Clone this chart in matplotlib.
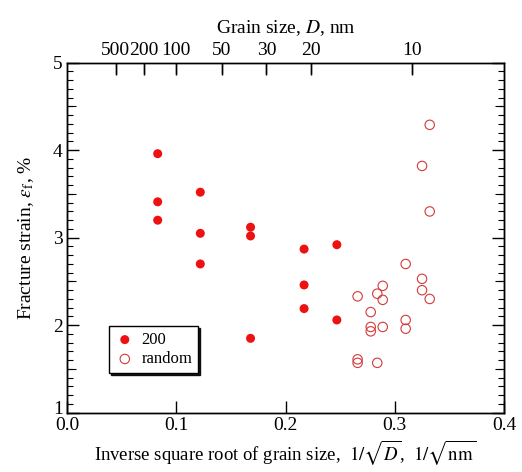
import numpy as np
import matplotlib
matplotlib.use('Agg')
import matplotlib.pyplot as plt
import matplotlib.transforms as mtransforms
from matplotlib.ticker import MultipleLocator

plt.rcParams['font.family'] = ['Liberation Serif', 'DejaVu Serif']
plt.rcParams['mathtext.fontset'] = 'stix'

# 200 (textured) samples
x_200 = [0.083, 0.083, 0.083, 0.122, 0.122, 0.122, 0.168, 0.168, 0.168,
         0.217, 0.217, 0.217, 0.247, 0.247]
y_200 = [3.96, 3.41, 3.20, 3.52, 3.05, 2.70, 3.12, 3.02, 1.85,
         2.87, 2.46, 2.19, 2.92, 2.06]

# random samples
x_rand = [0.332, 0.325, 0.332, 0.310, 0.325, 0.325, 0.332, 0.289, 0.284, 0.289,
          0.266, 0.278, 0.278, 0.278, 0.289, 0.310, 0.310, 0.266, 0.266, 0.284]
y_rand = [4.29, 3.82, 3.30, 2.70, 2.53, 2.40, 2.30, 2.45, 2.36, 2.29,
          2.33, 2.15, 1.98, 1.93, 1.98, 2.06, 1.96, 1.61, 1.57, 1.57]

# top axis grain sizes
grain_D = [500, 200, 100, 50, 30, 20, 10]

fig = plt.figure(figsize=(5.22, 4.72), dpi=100)
ax = fig.add_axes([0.1284, 0.1256, 0.8371, 0.7416])

ax.scatter(x_200, y_200, s=42, color='#ee1111', edgecolors='none', label='200', zorder=3)
ax.scatter(x_rand, y_rand, s=46, facecolors='none', edgecolors='#d23a3a',
           linewidths=0.8, label='random', zorder=3)

ax.set_xlim(0, 0.4)
ax.set_ylim(1, 5)
ax.xaxis.set_major_locator(MultipleLocator(0.1))
ax.yaxis.set_major_locator(MultipleLocator(1))
ax.yaxis.set_minor_locator(MultipleLocator(0.1))
ax.xaxis.set_major_formatter(matplotlib.ticker.FormatStrFormatter('%.1f'))
ax.tick_params(axis='both', which='major', direction='in', length=8.5, width=1,
               labelsize=14, pad=3)
ax.tick_params(axis='y', which='major', right=True)
ax.tick_params(axis='x', which='major', top=False)
ax.tick_params(axis='y', which='minor', direction='in', length=4.3, width=0.8, right=True)
ax.tick_params(axis='x', which='minor', bottom=False, top=False)

# longer ticks at half units
for side in ['left', 'right']:
    sec = ax.secondary_yaxis(side)
    sec.set_yticks(np.arange(1.5, 5, 1.0))
    sec.tick_params(direction='in', length=6.5, width=0.8, labelleft=False, labelright=False)

top = ax.twiny()
top.set_xlim(ax.get_xlim())
top.set_xticks(1 / np.sqrt(np.array(grain_D)))
top.set_xticklabels([str(d) for d in grain_D])
top.xaxis.set_tick_params(which='major', top=True, bottom=False, labeltop=True,
                          direction='in', length=8.5, width=1, labelsize=14, pad=3,
                          color='black')
top.xaxis.set_tick_params(which='minor', top=False, bottom=False)
top.set_xlabel('Grain size, $\\mathit{D}$, nm', fontsize=14, labelpad=6)
# top tick marks (inward)
ax.vlines(1 / np.sqrt(np.array(grain_D)), 0.967, 1.0, transform=ax.get_xaxis_transform(),
          color='black', linewidth=1, clip_on=False, zorder=4)

ax.set_xlabel('Inverse square root of grain size,  $1/\\sqrt{\\mathit{D}}$,  $1/\\sqrt{\\mathrm{nm}}$',
              fontsize=13.5, labelpad=3)
ax.set_ylabel('Fracture strain, $\\varepsilon_\\mathrm{f}$, %', fontsize=14, labelpad=12)

for a in [ax, top]:
    for s in a.spines.values():
        s.set_linewidth(1)

# lift the lowest y label a little so it clears "0.0"
fig.canvas.draw()
lbl = ax.get_yticklabels()[0] if ax.get_yticklabels()[0].get_text() == '1' else None
for t in ax.get_yticklabels():
    if t.get_text() == '1':
        t.set_transform(t.get_transform() + mtransforms.ScaledTranslation(0, 4 / 72, fig.dpi_scale_trans))

leg = ax.legend(loc='lower left', bbox_to_anchor=(0.096, 0.113), borderaxespad=0,
                fancybox=False, shadow={'ox': 1.5, 'oy': -1.5, 'color': 'black', 'alpha': 0.9},
                framealpha=1, edgecolor='black', fontsize=12, handletextpad=0.4,
                borderpad=0.35, labelspacing=0.2, handlelength=1.2)
leg.get_frame().set_linewidth(1)

fig.savefig('out.png', dpi=100)
